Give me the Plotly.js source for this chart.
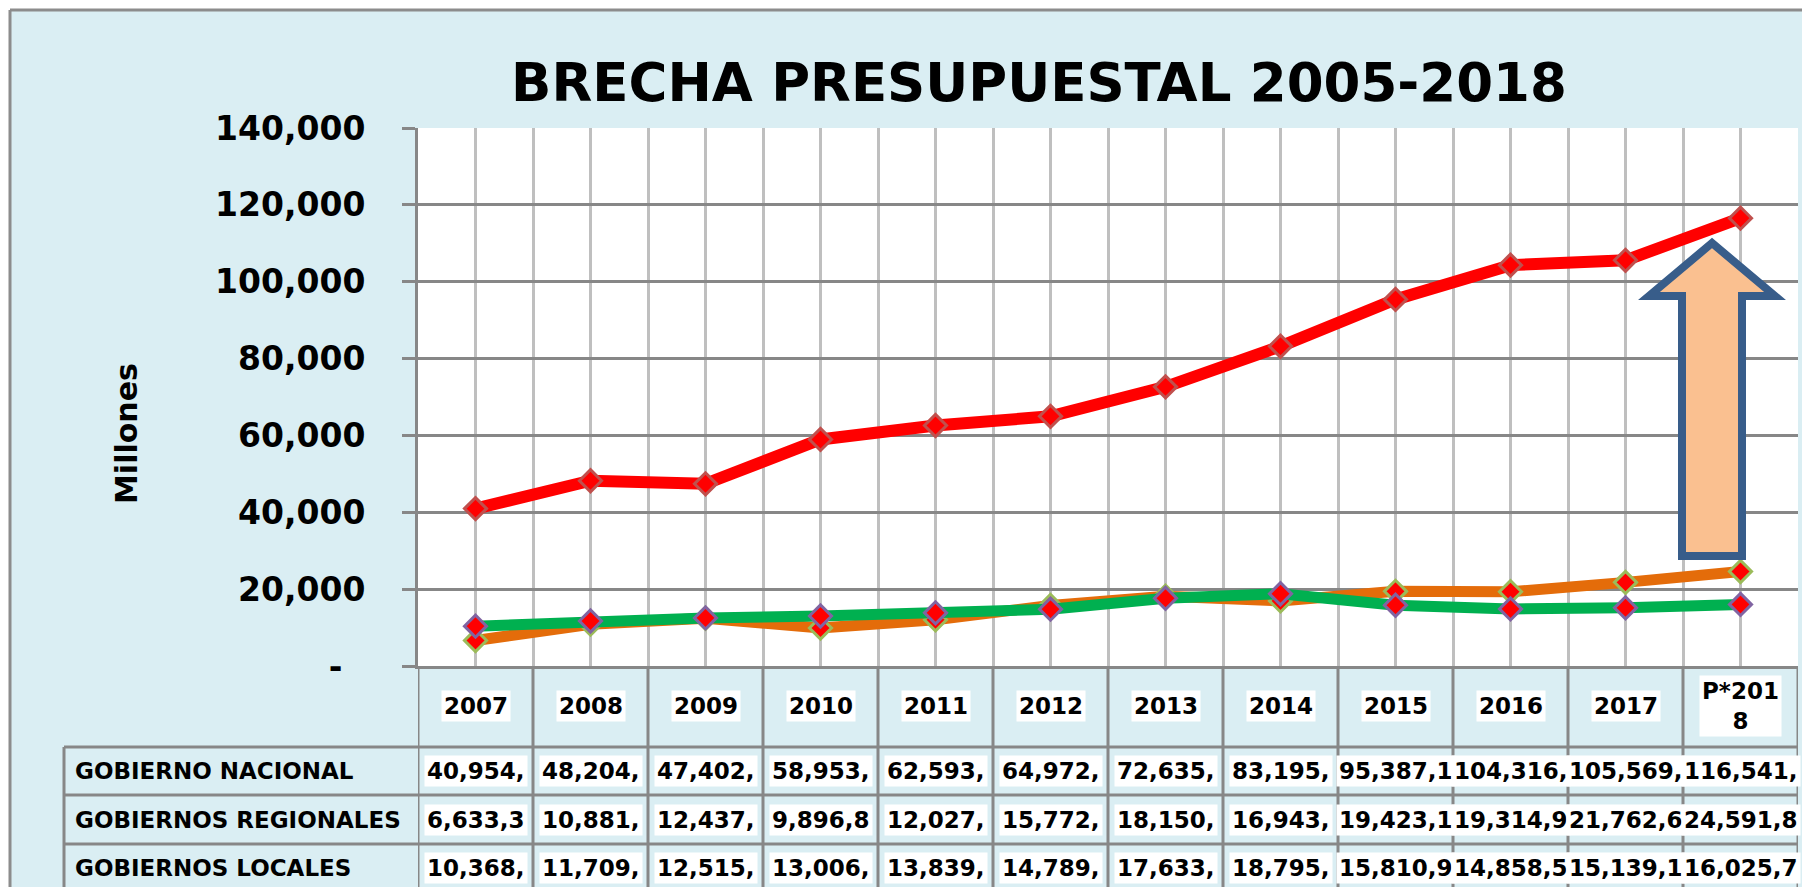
<!DOCTYPE html>
<html>
<head>
<meta charset="utf-8">
<script src="https://cdn.plot.ly/plotly-3.0.1.min.js"></script>
<style>
  html, body { margin: 0; padding: 0; background: #ffffff; }
  #chart { width: 1802px; height: 887px; }
</style>
</head>
<body>
<div id="chart"></div>
<script>
// ---------- DATA ----------
const categories = ['2007','2008','2009','2010','2011','2012','2013','2014','2015','2016','2017','P*2018'];
const headerLabels = ['2007','2008','2009','2010','2011','2012','2013','2014','2015','2016','2017','P*201<br>8'];
const seriesNames = ['GOBIERNO NACIONAL','GOBIERNOS REGIONALES','GOBIERNOS LOCALES'];

const gobiernoNacional    = [40954, 48204, 47402, 58953, 62593, 64972, 72635, 83195, 95387.1, 104316, 105569, 116541];
const gobiernosRegionales = [6633.3, 10881, 12437, 9896.8, 12027, 15772, 18150, 16943, 19423.1, 19314.9, 21762.6, 24591.8];
const gobiernosLocales    = [10368, 11709, 12515, 13006, 13839, 14789, 17633, 18795, 15810.9, 14858.5, 15139.1, 16025.7];

// texts shown in the data table (as truncated in the cells)
const gnText = ['40,954,','48,204,','47,402,','58,953,','62,593,','64,972,','72,635,','83,195,','95,387,1','104,316,','105,569,','116,541,'];
const grText = ['6,633,3','10,881,','12,437,','9,896,8','12,027,','15,772,','18,150,','16,943,','19,423,1','19,314,9','21,762,6','24,591,8'];
const glText = ['10,368,','11,709,','12,515,','13,006,','13,839,','14,789,','17,633,','18,795,','15,810,9','14,858,5','15,139,1','16,025,7'];

const yTickVals = [0, 20000, 40000, 60000, 80000, 100000, 120000, 140000];
const yTickText = ['-\u00a0\u00a0', '20,000', '40,000', '60,000', '80,000', '100,000', '120,000', '140,000'];

const titleText = 'BRECHA PRESUPUESTAL 2005-2018';
const yTitleText = 'Millones';

// ---------- LAYOUT GEOMETRY ----------
const FW = 1802, FH = 887;
const ML = 418, MR = 4, MT = 128, MB = 221;
const PW = FW - ML - MR, PH = FH - MT - MB;
const px2x = px => (px - ML) / PW;          // pixel -> paper x
const py2y = py => (FH - MB - py) / PH;     // pixel -> paper y

const FONT = 'DejaVu Sans, Verdana, sans-serif';
const GRID_DARK = '#878787';
const GRID_LIGHT = '#bfbfbf';
const xIdx = categories.map((c, i) => i);

// ---------- TRACES ----------
const traces = [
  { name: seriesNames[0], x: xIdx, y: gobiernoNacional, type: 'scatter', mode: 'lines+markers',
    line: { color: '#ff0000', width: 12 },
    marker: { symbol: 'diamond', size: 17, color: '#ff0000', line: { color: '#c0504d', width: 3 } } },
  { name: seriesNames[1], x: xIdx, y: gobiernosRegionales, type: 'scatter', mode: 'lines+markers',
    line: { color: '#e46c0a', width: 11 },
    marker: { symbol: 'diamond', size: 17, color: '#ff0000', line: { color: '#9bbb59', width: 3 } } },
  { name: seriesNames[2], x: xIdx, y: gobiernosLocales, type: 'scatter', mode: 'lines+markers',
    line: { color: '#00b050', width: 11 },
    marker: { symbol: 'diamond', size: 17, color: '#ff0000', line: { color: '#8064a2', width: 3 } } }
];

// ---------- SHAPES ----------
const shapes = [];
// white outer strips + chart frame
shapes.push({ type: 'rect', xref: 'paper', yref: 'paper', x0: px2x(0), x1: px2x(FW), y0: py2y(0), y1: py2y(10),
  fillcolor: '#ffffff', line: { width: 0 }, layer: 'below' });
shapes.push({ type: 'rect', xref: 'paper', yref: 'paper', x0: px2x(0), x1: px2x(10), y0: py2y(0), y1: py2y(FH),
  fillcolor: '#ffffff', line: { width: 0 }, layer: 'below' });
shapes.push({ type: 'line', xref: 'paper', yref: 'paper', x0: px2x(10), x1: px2x(FW + 5), y0: py2y(10), y1: py2y(10),
  line: { color: '#8c8c8c', width: 3 } });
shapes.push({ type: 'line', xref: 'paper', yref: 'paper', x0: px2x(10), x1: px2x(10), y0: py2y(10), y1: py2y(FH + 5),
  line: { color: '#8c8c8c', width: 3 } });

// data table grid
const rowLines = [747, 795, 844];
const rowCenters = [771, 819.5, 868];
for (let i = 0; i <= categories.length; i++) {
  shapes.push({ type: 'line', xref: 'x', yref: 'paper', x0: i - 0.5, x1: i - 0.5, y0: py2y(666), y1: py2y(FH + 5),
    line: { color: GRID_DARK, width: 3 } });
}
rowLines.forEach(py => {
  shapes.push({ type: 'line', xref: 'paper', yref: 'paper', x0: px2x(64), x1: 1, y0: py2y(py), y1: py2y(py),
    line: { color: GRID_DARK, width: 3 } });
});
shapes.push({ type: 'line', xref: 'paper', yref: 'paper', x0: px2x(64), x1: px2x(64), y0: py2y(747), y1: py2y(FH + 5),
  line: { color: GRID_DARK, width: 3 } });

// up arrow
const arrowPts = [[1712, 243], [1649, 296], [1682, 296], [1682, 556], [1742, 556], [1742, 296], [1775, 296]];
const arrowPath = 'M ' + arrowPts.map(p => px2x(p[0]) + ',' + py2y(p[1])).join(' L ') + ' Z';
shapes.push({ type: 'path', xref: 'paper', yref: 'paper', path: arrowPath,
  fillcolor: '#fac090', line: { color: '#385d8a', width: 8 } });

// ---------- ANNOTATIONS ----------
const annotations = [];
annotations.push({ text: yTitleText, xref: 'paper', yref: 'paper', x: px2x(127), y: py2y(434),
  textangle: -90, showarrow: false, xanchor: 'center', yanchor: 'middle',
  font: { family: FONT, size: 30, color: '#000000', weight: 'bold' } });

headerLabels.forEach((t, i) => {
  annotations.push({ text: t, xref: 'x', yref: 'paper', x: i, y: py2y(705.5), showarrow: false,
    xanchor: 'center', yanchor: 'middle', bgcolor: '#ffffff', borderpad: 2,
    font: { family: FONT, size: 23, color: '#000000', weight: 'bold' } });
});

[gnText, grText, glText].forEach((arr, r) => {
  annotations.push({ text: seriesNames[r], xref: 'paper', yref: 'paper', x: px2x(73), y: py2y(rowCenters[r]),
    showarrow: false, xanchor: 'left', yanchor: 'middle',
    font: { family: FONT, size: 23, color: '#000000', weight: 'bold' } });
  arr.forEach((t, i) => {
    annotations.push({ text: t, xref: 'x', yref: 'paper', x: i, y: py2y(rowCenters[r]), showarrow: false,
      xanchor: 'center', yanchor: 'middle', bgcolor: '#ffffff', borderpad: 2,
      font: { family: FONT, size: 23, color: '#000000', weight: 'bold' } });
  });
});

// ---------- LAYOUT ----------
const layout = {
  width: FW, height: FH,
  margin: { l: ML, r: MR, t: MT, b: MB, pad: 0 },
  paper_bgcolor: '#daeef3',
  plot_bgcolor: '#ffffff',
  showlegend: false,
  font: { family: FONT, color: '#000000', weight: 'bold' },
  title: { text: titleText, xref: 'container', yref: 'container', x: 1039 / FW, xanchor: 'center',
    y: 1 - 82 / FH, yanchor: 'middle',
    font: { family: FONT, size: 53, color: '#000000', weight: 'bold' } },
  xaxis: {
    type: 'linear', range: [-0.5, categories.length - 0.5], fixedrange: true,
    tickmode: 'linear', tick0: -0.5, dtick: 0.5, showticklabels: false, ticks: '',
    showgrid: true, gridcolor: GRID_LIGHT, gridwidth: 3, zeroline: false,
    showline: true, linecolor: GRID_DARK, linewidth: 3
  },
  yaxis: {
    range: [0, 140000], fixedrange: true,
    tickmode: 'array', tickvals: yTickVals, ticktext: yTickText,
    ticks: 'outside', ticklen: 13, tickwidth: 3, tickcolor: GRID_DARK, ticklabelstandoff: 30,
    tickfont: { family: FONT, size: 33, color: '#000000', weight: 'bold' },
    showgrid: true, gridcolor: GRID_DARK, gridwidth: 3, zeroline: false,
    showline: true, linecolor: GRID_DARK, linewidth: 3
  },
  shapes: shapes,
  annotations: annotations
};

Plotly.newPlot('chart', traces, layout, { displayModeBar: false, staticPlot: true });
</script>
</body>
</html>
